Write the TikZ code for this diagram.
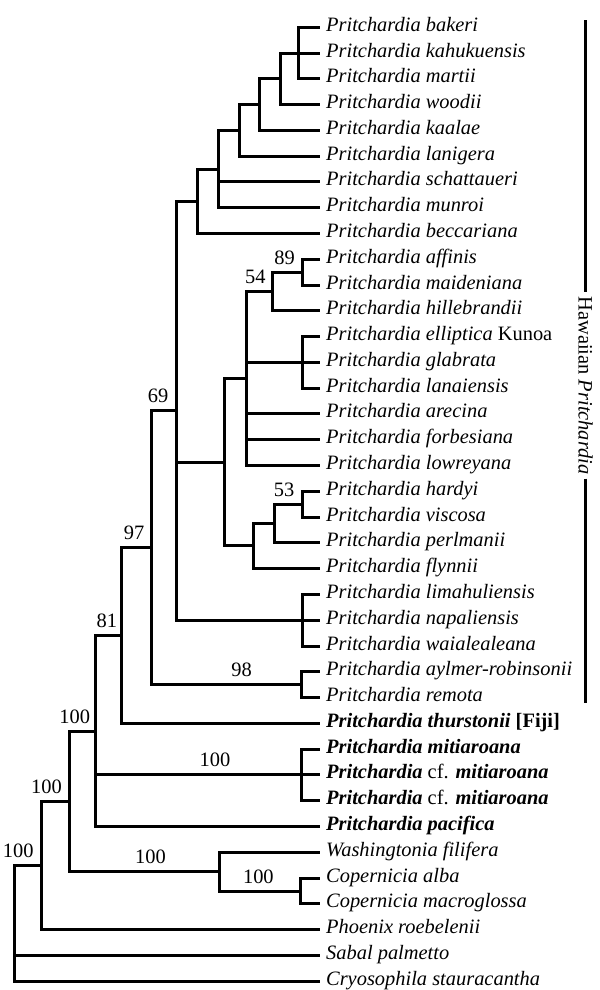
\documentclass[tikz,border=0pt]{standalone}
\usepackage{fontspec}
\setmainfont{Liberation Serif}
\usepackage{tikz}
\usetikzlibrary{positioning,calc}
\newcommand{\Pri}[1]{\textit{Pritchardia #1}}
\newcommand{\PriB}[1]{\textbf{\textit{Pritchardia #1}}}
\newcommand{\PriCf}{\textbf{\textit{Pritchardia}} cf. \textbf{\textit{mitiaroana}}}
\tikzset{
  taxon/.style    = {anchor=west,inner xsep=6pt,inner ysep=0pt,
                     text height=1.7ex,text depth=0pt},
  br/.style       = {line width=3bp},
  bs/.style       = {above=5pt,inner sep=1pt},
  cladebar/.style = {line width=3bp},
  cladelbl/.style = {rotate=-90,inner sep=4pt},
}

\begin{document}
\begin{tikzpicture}[x=1bp,y=-1bp,font=\fontsize{20.5}{24}\selectfont]
  \useasboundingbox (0,0) rectangle (600,990);
  % Tips
  \foreach \id/\txt [count=\i from 0] in {
      bakeri/{\Pri{bakeri}}, kahukuensis/{\Pri{kahukuensis}},
      martii/{\Pri{martii}}, woodii/{\Pri{woodii}},
      kaalae/{\Pri{kaalae}}, lanigera/{\Pri{lanigera}},
      schattaueri/{\Pri{schattaueri}}, munroi/{\Pri{munroi}},
      beccariana/{\Pri{beccariana}}, affinis/{\Pri{affinis}},
      maideniana/{\Pri{maideniana}}, hillebrandii/{\Pri{hillebrandii}},
      elliptica/{\Pri{elliptica} Kunoa}, glabrata/{\Pri{glabrata}},
      lanaiensis/{\Pri{lanaiensis}}, arecina/{\Pri{arecina}},
      forbesiana/{\Pri{forbesiana}}, lowreyana/{\Pri{lowreyana}},
      hardyi/{\Pri{hardyi}}, viscosa/{\Pri{viscosa}},
      perlmanii/{\Pri{perlmanii}}, flynnii/{\Pri{flynnii}},
      limahuliensis/{\Pri{limahuliensis}}, napaliensis/{\Pri{napaliensis}},
      waialealeana/{\Pri{waialealeana}}, aylmer/{\Pri{aylmer-robinsonii}},
      remota/{\Pri{remota}}, thurstonii/{\PriB{thurstonii} \textbf{[Fiji]}},
      mitiaroana/{\PriB{mitiaroana}}, cfmitA/{\PriCf}, cfmitB/{\PriCf},
      pacifica/{\PriB{pacifica}},
      washingtonia/{\textit{Washingtonia filifera}},
      alba/{\textit{Copernicia alba}},
      macroglossa/{\textit{Copernicia macroglossa}},
      phoenix/{\textit{Phoenix roebelenii}},
      sabal/{\textit{Sabal palmetto}},
      cryosophila/{\textit{Cryosophila stauracantha}}}{
    \node[taxon] (\id) at (320,{floor(27.3+25.78*\i)+0.5}) {\txt};
  }
  % Internal nodes
  \coordinate (nBak) at (298.5,53.5);
  \coordinate (nWoo) at (280.5,78.5);
  \coordinate (nKaa) at (259.5,104.5);
  \coordinate (nLan) at (239.5,130.5);
  \coordinate (nSch) at (218.5,169.5);
  \coordinate (nBec) at (197.5,201.5);
  \coordinate (n89)  at (302.5,272.5);
  \coordinate (n54)  at (272.5,291.5);
  \coordinate (nEll) at (302.5,362.5);
  \coordinate (nArc) at (246.5,378.5);
  \coordinate (n53)  at (302.5,504.5);
  \coordinate (nPer) at (274.5,523.5);
  \coordinate (nFly) at (253.5,545.5);
  \coordinate (nLow) at (224.5,462.5);
  \coordinate (nLim) at (302.5,620.5);
  \coordinate (n69)  at (176.5,410.5);
  \coordinate (n98)  at (301.5,684.5);
  \coordinate (n97)  at (151.5,547.5);
  \coordinate (n81)  at (121.5,635.5);
  \coordinate (nMit) at (301.5,774.5);
  \coordinate (nPac) at (95.5,731.5);
  \coordinate (nCop) at (300.5,891.5);
  \coordinate (nWas) at (219.5,871.5);
  \coordinate (nOut) at (69.5,801.5);
  \coordinate (nPho) at (41.5,865.5);
  \coordinate (root) at (14.5,923.5);
  % Hawaiian clade
  \foreach \c in {bakeri,kahukuensis,martii} \draw[br] (nBak) |- (\c.west);
  \draw[br] (nWoo) |- (nBak);  \draw[br] (nWoo) |- (woodii.west);
  \draw[br] (nKaa) |- (nWoo);  \draw[br] (nKaa) |- (kaalae.west);
  \draw[br] (nLan) |- (nKaa);  \draw[br] (nLan) |- (lanigera.west);
  \foreach \c in {schattaueri,munroi} \draw[br] (nSch) |- (\c.west);
  \draw[br] (nSch) |- (nLan);
  \draw[br] (nBec) |- (nSch);  \draw[br] (nBec) |- (beccariana.west);
  \foreach \c in {affinis,maideniana} \draw[br] (n89) |- (\c.west);
  \draw[br] (n54) |- node[bs,pos=.70] (s89) {89} (n89);
  \draw[br] (n54) |- (hillebrandii.west);
  \foreach \c in {elliptica,glabrata,lanaiensis} \draw[br] (nEll) |- (\c.west);
  \draw[br] (nArc) |- node[bs,pos=.67] (s54) {54} (n54);
  \draw[br] (nArc) |- (nEll);
  \foreach \c in {arecina,forbesiana,lowreyana} \draw[br] (nArc) |- (\c.west);
  \foreach \c in {hardyi,viscosa} \draw[br] (n53) |- (\c.west);
  \draw[br] (nPer) |- node[bs,pos=.67] (s53) {53} (n53);
  \draw[br] (nPer) |- (perlmanii.west);
  \draw[br] (nFly) |- (nPer); \draw[br] (nFly) |- (flynnii.west);
  \draw[br] (nLow) |- (nArc); \draw[br] (nLow) |- (nFly);
  \foreach \c in {limahuliensis,napaliensis,waialealeana}
    \draw[br] (nLim) |- (\c.west);
  \draw[br] (n69) |- (nBec); \draw[br] (n69) |- (nLow); \draw[br] (n69) |- (nLim);
  \foreach \c in {aylmer,remota} \draw[br] (n98) |- (\c.west);
  \draw[br] (n97) |- node[bs,pos=.63] (s69) {69} (n69);
  \draw[br] (n97) |- node[bs,pos=.80] (s98) {98} (n98);
  \draw[br] (n81) |- node[bs,pos=.71] (s97) {97} (n97);
  \draw[br] (n81) |- (thurstonii.west);
  % Other Pritchardia
  \foreach \c in {mitiaroana,cfmitA,cfmitB} \draw[br] (nMit) |- (\c.west);
  \draw[br] (nPac) |- node[bs,pos=.72] (s81) {81} (n81);
  \draw[br] (nPac) |- node[bs,pos=.79] (sMit) {100} (nMit);
  \draw[br] (nPac) |- (pacifica.west);
  % Outgroups
  \foreach \c in {alba,macroglossa} \draw[br] (nCop) |- (\c.west);
  \draw[br] (nWas) |- (washingtonia.west);
  \draw[br] (nWas) |- node[bs,pos=.74] (sCop) {100} (nCop);
  \draw[br] (nOut) |- node[bs,pos=.60] (sPac) {100} (nPac);
  \draw[br] (nOut) |- node[bs,pos=.77] (sWas) {100} (nWas);
  \draw[br] (nPho) |- node[bs,pos=.59] (sOut) {100} (nOut);
  \draw[br] (nPho) |- (phoenix.west);
  \draw[br] (root) |- node[bs,pos=.57] (sPho) {100} (nPho);
  \draw[br] (root) |- (sabal.west);
  \draw[br] (root) |- (cryosophila.west);
  % Clade bar
  \node[cladelbl] (haw) at (585.5,385.5) {Hawaiian \textit{Pritchardia}};
  \coordinate (hawTop) at (585.5,20);
  \coordinate (hawBot) at (585.5,703);
  \draw[cladebar] (hawTop) -- (haw.west);
  \draw[cladebar] (haw.east) -- (hawBot);
\end{tikzpicture}
\end{document}
